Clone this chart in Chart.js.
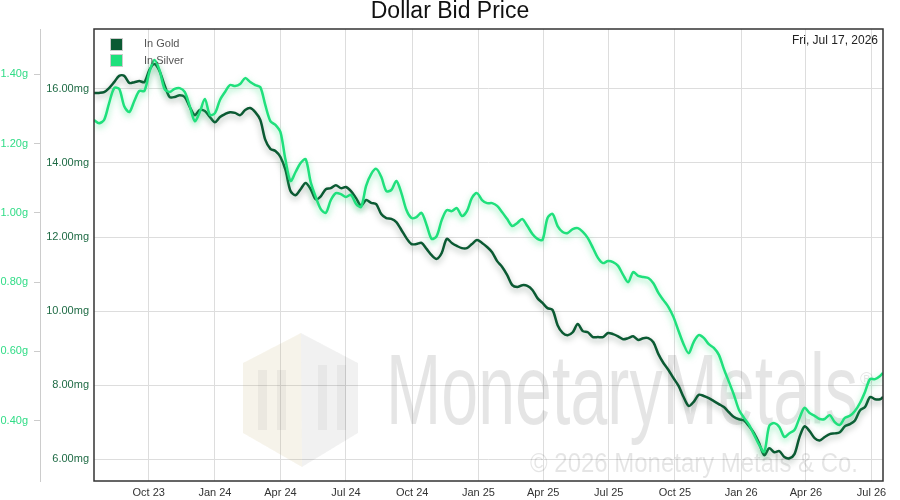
<!DOCTYPE html>
<html><head><meta charset="utf-8">
<script src="https://cdn.jsdelivr.net/npm/chart.js@4"></script>
<style>html,body{margin:0;padding:0;background:#fff}#wrap{width:900px;height:500px;position:relative}</style>
</head><body><div id="wrap"><canvas id="c"></canvas></div>
<script>
const titleText = 'Dollar Bid Price';
const asOfLabel = 'Fri, Jul 17, 2026';
const seriesNames = ['In Gold', 'In Silver'];
const startDate = '2023-07-17';
const endDate = '2026-07-17';
const tickDates = ['2023-10-01','2024-01-01','2024-04-01','2024-07-01','2024-10-01','2025-01-01','2025-04-01','2025-07-01','2025-10-01','2026-01-01','2026-04-01','2026-07-01'];
const tickLabels = ['Oct 23','Jan 24','Apr 24','Jul 24','Oct 24','Jan 25','Apr 25','Jul 25','Oct 25','Jan 26','Apr 26','Jul 26'];
const goldTicks = [6, 8, 10, 12, 14, 16];
const silverTicks = [0.4, 0.6, 0.8, 1.0, 1.2, 1.4];

// weekly readings, last one on the as-of date
const goldMg = [
15.89,15.89,15.91,16.02,16.18,16.35,16.35,16.16,16.18,16.21,
16.18,16.51,16.67,16.48,16.10,15.78,15.78,15.83,15.78,15.51,
15.29,15.43,15.40,15.24,15.10,15.24,15.32,15.37,15.35,15.29,
15.43,15.48,15.37,15.16,14.62,14.38,14.32,14.16,13.81,13.24,
13.13,13.29,13.46,13.29,13.02,13.10,13.29,13.32,13.40,13.32,
13.35,13.24,13.05,12.84,13.00,12.92,12.89,12.62,12.51,12.49,
12.40,12.19,11.97,11.81,11.81,11.84,11.68,11.51,11.41,11.57,
11.95,11.84,11.76,11.70,11.70,11.81,11.92,11.84,11.73,11.59,
11.35,11.19,10.97,10.70,10.65,10.70,10.68,10.57,10.35,10.22,
10.08,10.03,9.62,9.41,9.35,9.43,9.65,9.46,9.43,9.30,
9.30,9.30,9.41,9.38,9.32,9.24,9.27,9.32,9.22,9.27,
9.27,9.16,8.84,8.60,8.41,8.19,7.98,7.68,7.44,7.55,
7.74,7.71,7.65,7.57,7.49,7.41,7.27,7.14,7.08,7.05,
6.89,6.70,6.43,6.11,6.30,6.19,6.22,6.06,6.03,6.14,
6.60,6.89,6.76,6.57,6.51,6.60,6.68,6.70,6.73,6.89,
6.95,7.05,7.32,7.41,7.68,7.62,7.62,7.68
];
const silverG = [
1.268,1.259,1.268,1.317,1.360,1.358,1.308,1.291,1.323,1.352,
1.352,1.407,1.441,1.412,1.358,1.349,1.358,1.360,1.349,1.308,
1.265,1.291,1.329,1.283,1.288,1.326,1.349,1.369,1.366,1.372,
1.389,1.378,1.369,1.363,1.311,1.265,1.254,1.233,1.153,1.092,
1.118,1.144,1.155,1.089,1.046,1.011,1.000,1.037,1.057,1.054,
1.046,1.052,1.026,1.017,1.078,1.112,1.127,1.104,1.063,1.066,
1.092,1.057,1.008,0.985,0.988,1.000,0.965,0.925,0.933,0.979,
1.008,1.005,1.014,0.991,1.005,1.043,1.057,1.037,1.028,1.028,
1.020,1.002,0.982,0.962,0.971,0.982,0.962,0.939,0.925,0.922,
0.985,0.997,0.962,0.945,0.942,0.953,0.956,0.945,0.927,0.899,
0.870,0.855,0.861,0.858,0.847,0.821,0.800,0.829,0.818,0.815,
0.812,0.797,0.769,0.748,0.728,0.699,0.659,0.621,0.595,0.627,
0.647,0.639,0.621,0.610,0.590,0.549,0.512,0.474,0.431,0.408,
0.388,0.359,0.330,0.310,0.385,0.393,0.382,0.353,0.364,0.373,
0.408,0.437,0.422,0.414,0.405,0.405,0.416,0.396,0.388,0.408,
0.414,0.428,0.451,0.483,0.520,0.520,0.529,0.538
];

const DAY = 864e5;
const t0 = Date.parse(startDate);
const tEnd = Date.parse(endDate);
const weeks = goldMg.map((_, i) => i < goldMg.length - 1 ? t0 + i * 7 * DAY : tEnd);

const FONT = "'Liberation Sans', Arial, sans-serif";
const GOLD = '#0b5a33';
const SILVER = '#1fe07c';

const shadowPlugin = {
  id: 'shadow',
  beforeDatasetDraw(chart, args) {
    const ctx = chart.ctx; ctx.save();
    const ds = chart.data.datasets[args.index];
    ctx.shadowColor = ds._glow; ctx.shadowBlur = 6; ctx.shadowOffsetX = 0; ctx.shadowOffsetY = 3;
  },
  afterDatasetDraw(chart) { chart.ctx.restore(); }
};

const decorPlugin = {
  id: 'decor',
  beforeDatasetsDraw(chart) {
    const {ctx, chartArea: a} = chart;
    ctx.save();
    ctx.beginPath(); ctx.rect(a.left, a.top, a.right - a.left, a.bottom - a.top); ctx.clip();
    const poly = (pts, fill) => { ctx.beginPath(); pts.forEach((p, i) => i ? ctx.lineTo(p[0], p[1]) : ctx.moveTo(p[0], p[1])); ctx.closePath(); ctx.fillStyle = fill; ctx.fill(); };
    poly([[301,333],[302,467],[243,433],[243,363]], 'rgba(235,215,150,0.14)');
    poly([[301,333],[358,363],[358,433],[302,467]], 'rgba(0,0,0,0.035)');
    poly([[301,333],[358,363],[358,433],[302,467],[243,433],[243,363]], 'rgba(0,0,0,0.025)');
    ctx.fillStyle = 'rgba(0,0,0,0.045)';
    [[258,370,9,60],[277,370,9,60],[318,365,9,65],[337,365,9,65]].forEach(r => ctx.fillRect(r[0], r[1], r[2], r[3]));
    ctx.fillStyle = 'rgba(0,0,0,0.10)';
    ctx.textBaseline = 'alphabetic'; ctx.textAlign = 'left';
    ctx.font = '100px ' + FONT;
    ctx.fillText('MonetaryMetals', 386, 424, 472);
    ctx.font = '18px ' + FONT;
    ctx.fillText('\u00AE', 860, 385);
    ctx.font = '27px ' + FONT;
    ctx.fillText('\u00A9 2026 Monetary Metals & Co.', 530, 472, 328);
    ctx.restore();
  },
  afterDraw(chart) {
    const {ctx, chartArea: a} = chart;
    ctx.save();
    ctx.strokeStyle = '#333'; ctx.lineWidth = 1.5;
    ctx.strokeRect(a.left, a.top, a.right - a.left, a.bottom - a.top);
    // title
    ctx.font = '23px ' + FONT; ctx.textBaseline = 'middle'; ctx.textAlign = 'center'; ctx.fillStyle = '#111';
    ctx.fillText(titleText, 450, 12);
    // legend
    ctx.font = '11px ' + FONT; ctx.textBaseline = 'middle'; ctx.textAlign = 'left';
    [[GOLD, 38.5, 44], [SILVER, 54.5, 61]].forEach((e, i) => {
      ctx.fillStyle = e[0]; ctx.fillRect(110.5, e[1], 12, 12);
      ctx.strokeStyle = '#ccc'; ctx.lineWidth = 1; ctx.strokeRect(110.5, e[1], 12, 12);
      ctx.fillStyle = '#555'; ctx.fillText(seriesNames[i], 144, e[2]);
    });
    ctx.font = '12px ' + FONT; ctx.textAlign = 'right'; ctx.fillStyle = '#222';
    ctx.fillText(asOfLabel, 878, 41);
    ctx.restore();
  }
};

new Chart(document.getElementById('c'), {
  type: 'line',
  data: {
    datasets: [
      { label: seriesNames[0], data: weeks.map((t, i) => ({x: t, y: goldMg[i]})), yAxisID: 'yGold',
        borderColor: GOLD, backgroundColor: GOLD, borderWidth: 2.5, pointRadius: 0, tension: 0.3, order: 1, _glow: 'rgba(0,40,20,0.35)' },
      { label: seriesNames[1], data: weeks.map((t, i) => ({x: t, y: silverG[i]})), yAxisID: 'ySilver',
        borderColor: SILVER, backgroundColor: SILVER, borderWidth: 2.5, pointRadius: 0, tension: 0.3, order: 0, _glow: 'rgba(40,220,120,0.55)' }
    ]
  },
  options: {
    responsive: true, maintainAspectRatio: false, animation: false, events: [],
    layout: { padding: { top: 29, right: 17, bottom: 0, left: 0 } },
    plugins: { legend: { display: false }, tooltip: { enabled: false }, title: { display: false } },
    scales: {
      x: {
        type: 'linear', min: t0, max: tEnd,
        afterBuildTicks: s => { s.ticks = tickDates.map(d => ({ value: Date.parse(d) })); },
        afterFit: s => { s.height = 19; },
        ticks: { autoSkip: false, maxRotation: 0, padding: 5, color: '#333', font: { family: FONT, size: 11 }, callback: (v, i) => tickLabels[i] },
        grid: { color: '#ddd', drawTicks: false }, border: { display: false }
      },
      yGold: {
        position: 'left', weight: 0, min: 5.414, max: 17.615,
        afterBuildTicks: s => { s.ticks = goldTicks.map(v => ({ value: v })); },
        afterFit: s => { s.width = 54; },
        ticks: { padding: 5, color: '#1f6b45', font: { family: FONT, size: 11 }, callback: v => v.toFixed(2) + 'mg' },
        grid: { color: '#ddd', drawTicks: false }, border: { display: false }
      },
      ySilver: {
        position: 'left', weight: 1, min: 0.2259, max: 1.5308,
        afterBuildTicks: s => { s.ticks = silverTicks.map(v => ({ value: v })); },
        afterFit: s => { s.width = 40; },
        ticks: { padding: 6, color: '#30dc86', font: { family: FONT, size: 11 }, callback: v => v.toFixed(2) + 'g' },
        grid: { drawOnChartArea: false, drawTicks: true, tickLength: 6, color: '#ccc' },
        border: { display: true, color: '#ccc' }
      }
    }
  },
  plugins: [shadowPlugin, decorPlugin]
});
</script></body></html>
